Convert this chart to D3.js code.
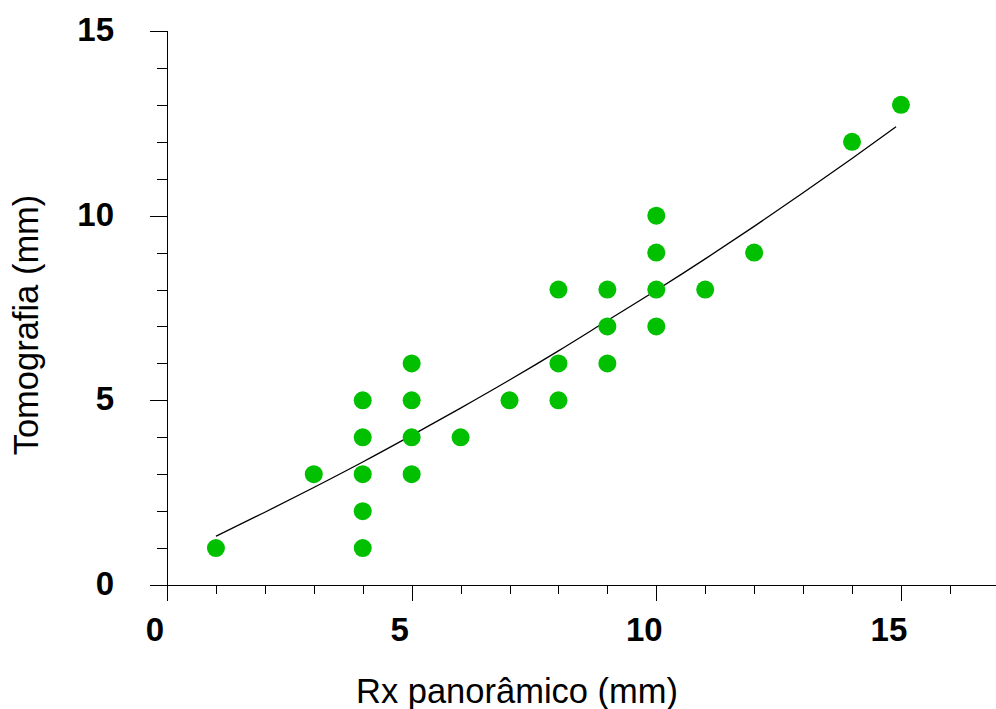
<!DOCTYPE html>
<html>
<head>
<meta charset="utf-8">
<script src="https://cdn.jsdelivr.net/npm/d3@7"></script>
<style>
body{margin:0;background:#fff;}
.eixo line, .eixo path{stroke:#000;stroke-width:1;shape-rendering:crispEdges;}
.rotulo{font-family:Arial,"Liberation Sans",sans-serif;font-weight:bold;font-size:33px;fill:#000;}
.titulo{font-family:Arial,"Liberation Sans",sans-serif;font-size:34.5px;fill:#000;}
</style>
</head>
<body>
<div id="grafico"></div>
<script>
// dados
var rxPanoramico = [1,3,4,4,4,4,4,5,5,5,5,6,7,8,8,8,9,9,9,10,10,10,10,11,12,14,15];
var tomografia   = [1,3,1,2,3,4,5,3,4,5,6,4,5,5,6,8,6,7,8,7,8,9,10,8,9,12,13];

// curva de ajuste (valores lidos ao longo da linha)
var curvaX = [1,2,3,4,5,6,7,8,9,10,11,12,13,14,14.9];
var curvaY = [1.32,1.97,2.64,3.33,4.05,4.79,5.55,6.34,7.16,7.98,8.83,9.71,10.62,11.55,12.41];

var ticksX = [0,5,10,15];
var ticksY = [0,5,10,15];
var ticksMenoresX = d3.range(0,17);
var ticksMenoresY = d3.range(0,16);

var largura = 996, altura = 709;

var svg = d3.select("#grafico").append("svg")
	.attr("width",largura)
	.attr("height",altura);

var x = d3.scaleLinear().domain([0,17]).range([167,167+17*48.93]);
var y = d3.scaleLinear().domain([0,15]).range([585,31]);

/*eixo x*/
var eixoX = svg.append("g").attr("class","eixo");
eixoX.append("line")
	.attr("x1",151).attr("x2",largura)
	.attr("y1",585.5).attr("y2",585.5);
eixoX.selectAll(".tick").data(ticksMenoresX).enter().append("line")
	.attr("x1",function(d){return Math.round(x(d))+0.5;})
	.attr("x2",function(d){return Math.round(x(d))+0.5;})
	.attr("y1",585)
	.attr("y2",function(d){return d%5==0 ? 601 : 594;});
svg.selectAll(".rotuloX").data(ticksX).enter().append("text")
	.attr("class","rotulo")
	.attr("x",function(d){return x(d)-12;})
	.attr("y",641)
	.attr("text-anchor","middle")
	.text(function(d){return d;});

/*eixo y*/
var eixoY = svg.append("g").attr("class","eixo");
eixoY.append("line")
	.attr("x1",167.5).attr("x2",167.5)
	.attr("y1",31).attr("y2",601);
eixoY.selectAll(".tick").data(ticksMenoresY).enter().append("line")
	.attr("x1",function(d){return d%5==0 ? 150 : 157;})
	.attr("x2",167)
	.attr("y1",function(d){return Math.round(y(d))+0.5;})
	.attr("y2",function(d){return Math.round(y(d))+0.5;});
svg.selectAll(".rotuloY").data(ticksY).enter().append("text")
	.attr("class","rotulo")
	.attr("x",114)
	.attr("y",function(d){return y(d)+10;})
	.attr("text-anchor","end")
	.text(function(d){return d;});

//titulos
svg.append("text").attr("class","titulo")
	.attr("x",517).attr("y",703)
	.attr("text-anchor","middle")
	.text("Rx panorâmico (mm)");
svg.append("text").attr("class","titulo")
	.attr("transform","translate(38,325) rotate(-90)")
	.attr("text-anchor","middle")
	.text("Tomografia (mm)");

//linha de ajuste
var linha = d3.line()
	.x(function(d){return x(d);})
	.y(function(d,i){return y(curvaY[i]);})
	.curve(d3.curveMonotoneX);
svg.append("path")
	.attr("d",linha(curvaX))
	.attr("fill","none")
	.attr("stroke","#000")
	.attr("stroke-width",1.3);

//pontos
svg.selectAll(".ponto").data(rxPanoramico).enter().append("circle")
	.attr("class","ponto")
	.attr("cx",function(d){return x(d);})
	.attr("cy",function(d,i){return y(tomografia[i]);})
	.attr("r",9)
	.attr("fill","#00c000");
</script>
</body>
</html>
